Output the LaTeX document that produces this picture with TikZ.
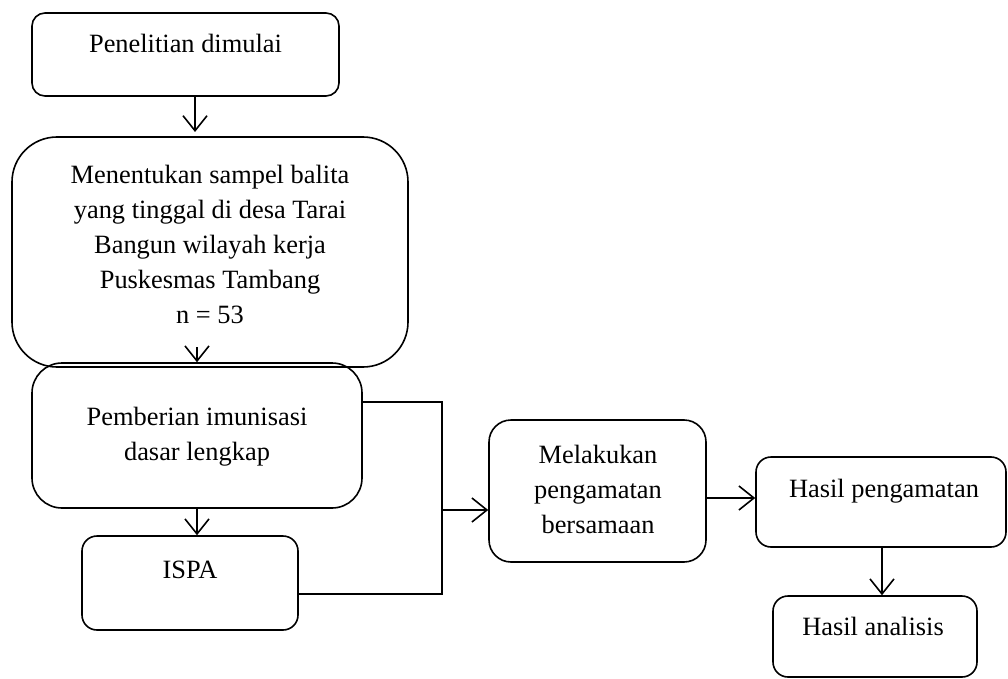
\documentclass[tikz,border=0pt]{standalone}
\usepackage{fontspec}
\setmainfont{Liberation Serif}
\usetikzlibrary{arrows.meta}
\begin{document}
\begin{tikzpicture}[x=1pt,y=-1pt,
  box/.style={draw, line width=1.6pt, rounded corners=#1, inner sep=0pt},
  box/.default=14pt,
  lbl/.style={font=\fontsize{26.4}{35}\selectfont, align=center, anchor=base, inner sep=0pt},
  arr/.style={line width=1.6pt, -{Straight Barb[length=15pt,width=24pt,line width=1.6pt]}},
  ln/.style={line width=1.6pt}]
\useasboundingbox (0,0) rectangle (1008,679);
% boxes
\node[box=13pt, minimum width=307pt, minimum height=83pt] (b1) at (185.5,54.5) {};
\node[box=45pt, minimum width=396pt, minimum height=230pt] (b2) at (210,252) {};
\node[box=30pt, minimum width=330pt, minimum height=145pt] (b3) at (197,435.5) {};
\node[box=15pt, minimum width=216pt, minimum height=94pt] (b4) at (190,583) {};
\node[box=22pt, minimum width=217pt, minimum height=142pt] (b5) at (597.5,491) {};
\node[box=15pt, minimum width=250pt, minimum height=90pt] (b6) at (881,502) {};
\node[box=15pt, minimum width=204pt, minimum height=81pt] (b7) at (875,636.5) {};
% texts (anchor base = baseline of the last line)
\node[lbl] (t1) at (185.5,53) {Penelitian dimulai};
\node[lbl] (t2) at (210,323) {Menentukan sampel balita\\yang tinggal di desa Tarai\\Bangun wilayah kerja\\Puskesmas Tambang\\n = 53};
\node[lbl] (t3) at (197,460) {Pemberian imunisasi\\dasar lengkap};
\node[lbl] (t4) at (190,578) {ISPA};
\node[lbl] (t5) at (598,533) {Melakukan\\pengamatan\\bersamaan};
\node[lbl] (t6) at (884,497) {Hasil pengamatan};
\node[lbl] (t7) at (873,635) {Hasil analisis};
% connectors
\coordinate (a1e) at (195,132);
\coordinate (a2s) at (197,347);
\coordinate (j1) at (442,402);
\coordinate (j2) at (442,594);
\coordinate (j3) at (442,510);
\draw[arr] (b1.south -| a1e) -- (a1e);
\draw[arr] (a2s) -- (b3.north -| a2s);
\draw[arr] (b3.south -| 197,0) -- (b4.north -| 197,0);
\draw[ln] (b3.east |- j1) -- (j1) -- (j2) -- (b4.east |- j2);
\draw[arr] (j3) -- (b5.west |- j3);
\draw[arr] (b5.east |- 0,498) -- (b6.west |- 0,498);
\draw[arr] (b6.south -| 882,0) -- (b7.north -| 882,0);
\end{tikzpicture}
\end{document}
